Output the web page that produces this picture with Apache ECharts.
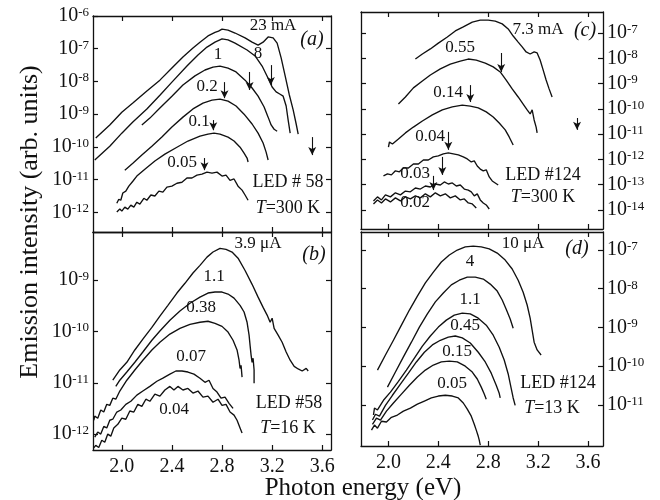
<!DOCTYPE html>
<html>
<head>
<meta charset="utf-8">
<script src="https://cdn.jsdelivr.net/npm/echarts@6.0.0/dist/echarts.min.js"></script>
<style>
  body { margin: 0; background: #fff; }
  #chart { width: 660px; height: 500px; }
</style>
</head>
<body>
<div id="chart"></div>
<script>
// photon energy (eV) vs log10 of emission intensity (arb. units)
const energyTicks = [2.0, 2.4, 2.8, 3.2, 3.6];
const decadesA = [-12, -11, -10, -9, -8, -7, -6];
const decadesB = [-12, -11, -10, -9];
const decadesC = [-14, -13, -12, -11, -10, -9, -8, -7];
const decadesD = [-11, -10, -9, -8, -7];

// (a) LED #58, T = 300 K
const a23mA = [[1.792,-9.73],[1.904,-9.33],[2.000,-8.94],[2.088,-8.66],[2.200,-8.29],[2.304,-7.96],[2.400,-7.59],[2.488,-7.25],[2.568,-6.98],[2.624,-6.80],[2.688,-6.61],[2.744,-6.50],[2.772,-6.46],[2.800,-6.40],[2.848,-6.43],[2.904,-6.52],[2.984,-6.67],[3.040,-6.80],[3.088,-6.89],[3.128,-6.80],[3.168,-6.64],[3.208,-6.67],[3.240,-6.83],[3.272,-7.28],[3.304,-7.83],[3.336,-8.39],[3.368,-8.87],[3.392,-9.30],[3.408,-9.61]];
const a8mA = [[1.784,-10.40],[1.904,-9.98],[2.000,-9.58],[2.088,-9.24],[2.200,-8.84],[2.304,-8.42],[2.400,-8.02],[2.520,-7.53],[2.608,-7.19],[2.680,-6.95],[2.744,-6.80],[2.800,-6.70],[2.848,-6.73],[2.904,-6.83],[3.000,-7.04],[3.064,-7.22],[3.120,-7.53],[3.168,-7.90],[3.200,-8.17],[3.232,-8.32],[3.264,-8.39],[3.288,-8.45],[3.312,-8.75],[3.328,-9.18],[3.344,-9.58]];
const a1mA = [[2.160,-9.33],[2.224,-9.12],[2.304,-8.81],[2.400,-8.45],[2.488,-8.11],[2.584,-7.83],[2.664,-7.65],[2.728,-7.56],[2.784,-7.53],[2.848,-7.59],[2.912,-7.71],[2.984,-7.96],[3.040,-8.20],[3.088,-8.45],[3.136,-8.78],[3.168,-9.09],[3.192,-9.33],[3.216,-9.46],[3.240,-9.52]];
const a02mA = [[2.024,-10.71],[2.088,-10.50],[2.160,-10.25],[2.240,-9.98],[2.320,-9.70],[2.400,-9.39],[2.488,-9.09],[2.568,-8.84],[2.648,-8.66],[2.720,-8.57],[2.784,-8.54],[2.848,-8.60],[2.912,-8.75],[2.976,-9.00],[3.040,-9.30],[3.088,-9.58],[3.128,-9.88],[3.152,-10.16],[3.168,-10.40]];
const a01mA = [[1.960,-11.72],[1.976,-11.60],[1.992,-11.63],[2.008,-11.41],[2.032,-11.35],[2.056,-11.20],[2.088,-11.05],[2.120,-10.89],[2.184,-10.68],[2.264,-10.43],[2.344,-10.22],[2.440,-10.01],[2.528,-9.82],[2.624,-9.67],[2.688,-9.61],[2.736,-9.58],[2.784,-9.61],[2.848,-9.70],[2.896,-9.82],[2.944,-10.01],[2.976,-10.19],[3.000,-10.34],[3.008,-10.46]];
const a005mA = [[1.960,-11.99],[1.984,-11.90],[2.000,-11.96],[2.024,-11.84],[2.048,-11.90],[2.072,-11.78],[2.096,-11.84],[2.120,-11.69],[2.144,-11.75],[2.176,-11.57],[2.200,-11.63],[2.232,-11.47],[2.264,-11.50],[2.296,-11.35],[2.328,-11.38],[2.360,-11.23],[2.400,-11.20],[2.440,-11.11],[2.480,-11.08],[2.520,-10.95],[2.560,-10.95],[2.600,-10.86],[2.640,-10.83],[2.680,-10.77],[2.720,-10.80],[2.760,-10.77],[2.800,-10.89],[2.832,-10.86],[2.864,-11.02],[2.896,-10.98],[2.928,-11.20],[2.960,-11.32],[2.984,-11.47],[3.008,-11.63]];
// arrows: energy, top, bottom
const arrowsA = [[2.66,-10.34,-10.71],[2.73,-9.18,-9.49],[2.82,-8.02,-8.51],[3.02,-7.71,-8.26],[3.19,-7.50,-8.11],[3.52,-9.70,-10.25]];

// (b) LED #58, T = 16 K
const b39uA = [[1.928,-10.95],[1.984,-10.75],[2.040,-10.60],[2.104,-10.36],[2.168,-10.15],[2.240,-9.92],[2.304,-9.70],[2.368,-9.49],[2.440,-9.25],[2.504,-9.06],[2.568,-8.86],[2.624,-8.71],[2.680,-8.55],[2.728,-8.45],[2.784,-8.38],[2.832,-8.40],[2.880,-8.45],[2.928,-8.57],[2.984,-8.81],[3.040,-9.08],[3.088,-9.33],[3.128,-9.53],[3.160,-9.68],[3.184,-9.82],[3.200,-9.74],[3.216,-9.94],[3.248,-10.07],[3.280,-10.21],[3.312,-10.40],[3.344,-10.56],[3.376,-10.68],[3.408,-10.73],[3.440,-10.77],[3.472,-10.72],[3.488,-10.77]];
const b11uA = [[1.952,-11.07],[1.984,-10.95],[2.040,-10.79],[2.104,-10.60],[2.168,-10.40],[2.240,-10.17],[2.304,-9.99],[2.384,-9.78],[2.464,-9.60],[2.544,-9.45],[2.624,-9.33],[2.688,-9.25],[2.744,-9.23],[2.800,-9.23],[2.848,-9.27],[2.896,-9.35],[2.944,-9.49],[2.976,-9.62],[3.000,-9.82],[3.016,-10.07],[3.024,-10.27],[3.032,-10.46],[3.040,-10.60],[3.048,-10.52],[3.056,-10.75],[3.056,-11.01]];
const b038uA = [[1.776,-11.73],[1.784,-11.65],[1.808,-11.69],[1.832,-11.53],[1.856,-11.57],[1.880,-11.42],[1.904,-11.44],[1.928,-11.30],[1.952,-11.32],[1.984,-11.16],[2.040,-10.95],[2.104,-10.75],[2.168,-10.56],[2.240,-10.36],[2.304,-10.21],[2.384,-10.05],[2.464,-9.94],[2.544,-9.86],[2.624,-9.82],[2.688,-9.80],[2.744,-9.84],[2.800,-9.90],[2.848,-10.01],[2.888,-10.17],[2.920,-10.36],[2.936,-10.56],[2.944,-10.72],[2.952,-10.66],[2.960,-10.89]];
const b007uA = [[1.784,-12.06],[1.808,-11.96],[1.832,-12.00],[1.856,-11.85],[1.880,-11.88],[1.904,-11.73],[1.928,-11.71],[1.960,-11.57],[1.992,-11.53],[2.032,-11.42],[2.072,-11.36],[2.120,-11.24],[2.168,-11.16],[2.224,-11.07],[2.280,-10.97],[2.328,-10.91],[2.384,-10.83],[2.432,-10.77],[2.480,-10.77],[2.528,-10.79],[2.576,-10.83],[2.624,-10.91],[2.664,-10.99],[2.696,-10.95],[2.728,-11.11],[2.760,-11.18],[2.792,-11.30],[2.824,-11.28],[2.856,-11.40],[2.888,-11.50]];
const b004uA = [[1.776,-12.27],[1.792,-12.22],[1.816,-12.26],[1.840,-12.12],[1.864,-12.16],[1.888,-12.00],[1.912,-12.04],[1.936,-11.88],[1.968,-11.81],[2.000,-11.69],[2.032,-11.71],[2.064,-11.55],[2.096,-11.57],[2.128,-11.42],[2.160,-11.46],[2.192,-11.32],[2.224,-11.36],[2.264,-11.22],[2.304,-11.26],[2.344,-11.14],[2.384,-11.07],[2.416,-11.14],[2.448,-11.07],[2.488,-11.14],[2.528,-11.11],[2.568,-11.20],[2.608,-11.16],[2.648,-11.28],[2.688,-11.26],[2.728,-11.38],[2.768,-11.32],[2.800,-11.44],[2.832,-11.42],[2.864,-11.57],[2.896,-11.63],[2.920,-11.73],[2.944,-11.88],[2.960,-11.98]];

// (c) LED #124, T = 300 K
const c73mA = [[2.216,-8.03],[2.272,-7.83],[2.336,-7.63],[2.400,-7.40],[2.472,-7.16],[2.536,-6.92],[2.600,-6.76],[2.672,-6.57],[2.736,-6.49],[2.800,-6.49],[2.856,-6.53],[2.912,-6.64],[2.960,-6.84],[3.000,-7.12],[3.040,-7.36],[3.072,-7.55],[3.104,-7.75],[3.136,-7.83],[3.168,-7.75],[3.192,-7.79],[3.216,-8.07],[3.240,-8.46],[3.264,-8.86],[3.288,-9.21],[3.312,-9.53]];
const c055mA = [[2.080,-9.81],[2.136,-9.53],[2.200,-9.17],[2.272,-8.90],[2.336,-8.66],[2.416,-8.42],[2.496,-8.23],[2.576,-8.11],[2.640,-8.03],[2.704,-8.07],[2.776,-8.19],[2.840,-8.34],[2.896,-8.54],[2.944,-8.86],[2.992,-9.21],[3.040,-9.53],[3.080,-9.81],[3.112,-10.04],[3.136,-10.20],[3.152,-10.04],[3.168,-10.44],[3.184,-10.72],[3.192,-10.95]];
const c014mA = [[2.000,-11.51],[2.008,-11.31],[2.032,-11.39],[2.080,-11.19],[2.136,-10.95],[2.200,-10.72],[2.272,-10.48],[2.352,-10.24],[2.432,-10.04],[2.512,-9.92],[2.592,-9.85],[2.656,-9.89],[2.720,-9.96],[2.784,-10.12],[2.840,-10.32],[2.888,-10.56],[2.936,-10.83],[2.968,-11.11],[3.000,-11.43]];
const c004mA = [[1.960,-12.65],[1.992,-12.57],[2.024,-12.61],[2.056,-12.45],[2.088,-12.49],[2.120,-12.34],[2.160,-12.34],[2.200,-12.18],[2.240,-12.18],[2.280,-12.02],[2.320,-12.02],[2.360,-11.90],[2.400,-11.86],[2.440,-11.78],[2.480,-11.74],[2.520,-11.78],[2.560,-11.82],[2.600,-11.90],[2.632,-11.98],[2.664,-12.10],[2.688,-12.06],[2.712,-12.26],[2.736,-12.38],[2.760,-12.45],[2.784,-12.41],[2.808,-12.69],[2.832,-12.85],[2.856,-12.93],[2.880,-13.01]];
const c003mA = [[1.880,-13.64],[1.912,-13.48],[1.944,-13.60],[1.976,-13.40],[2.016,-13.48],[2.056,-13.32],[2.096,-13.40],[2.136,-13.25],[2.176,-13.28],[2.216,-13.13],[2.256,-13.17],[2.296,-13.05],[2.336,-13.09],[2.376,-12.97],[2.416,-13.01],[2.448,-12.89],[2.480,-12.97],[2.512,-12.93],[2.544,-13.05],[2.576,-13.01],[2.608,-13.17],[2.640,-13.21],[2.664,-13.28],[2.688,-13.44],[2.712,-13.36],[2.736,-13.60],[2.760,-13.72],[2.784,-13.80],[2.808,-13.96]];
const c002mA = [[1.880,-13.76],[1.912,-13.60],[1.944,-13.72],[1.976,-13.56],[2.016,-13.68],[2.056,-13.52],[2.096,-13.64],[2.136,-13.48],[2.176,-13.56],[2.216,-13.44],[2.256,-13.52],[2.296,-13.36],[2.336,-13.48],[2.376,-13.32],[2.416,-13.44],[2.456,-13.36],[2.496,-13.52],[2.536,-13.44],[2.576,-13.60],[2.608,-13.56],[2.640,-13.72],[2.672,-13.76],[2.704,-13.92]];
const arrowsC = [[2.904,-7.79,-8.54],[2.656,-9.06,-9.73],[2.480,-10.91,-11.62],[2.432,-11.90,-12.61],[2.360,-12.65,-13.21],[3.512,-10.36,-10.83]];

// (d) LED #124, T = 13 K
const d10uA = [[1.912,-10.10],[1.976,-9.71],[2.040,-9.33],[2.104,-8.94],[2.168,-8.55],[2.232,-8.19],[2.296,-7.85],[2.360,-7.57],[2.424,-7.31],[2.488,-7.13],[2.552,-7.00],[2.616,-6.92],[2.680,-6.90],[2.744,-6.92],[2.808,-6.97],[2.872,-7.08],[2.936,-7.26],[2.992,-7.49],[3.040,-7.78],[3.080,-8.09],[3.112,-8.42],[3.136,-8.76],[3.152,-9.07],[3.168,-9.38],[3.192,-9.58],[3.224,-9.71]];
const d4uA = [[1.992,-10.54],[2.056,-10.15],[2.120,-9.76],[2.184,-9.38],[2.248,-8.99],[2.312,-8.65],[2.376,-8.34],[2.440,-8.11],[2.504,-7.90],[2.568,-7.78],[2.632,-7.70],[2.696,-7.70],[2.760,-7.75],[2.816,-7.88],[2.872,-8.06],[2.912,-8.29],[2.944,-8.53],[2.976,-8.78],[3.000,-9.02]];
const d11uA = [[1.880,-11.26],[1.888,-11.08],[1.912,-11.13],[1.960,-10.88],[2.016,-10.67],[2.080,-10.39],[2.144,-10.10],[2.208,-9.79],[2.272,-9.48],[2.336,-9.22],[2.400,-8.99],[2.464,-8.81],[2.528,-8.68],[2.592,-8.63],[2.656,-8.65],[2.720,-8.76],[2.784,-8.94],[2.840,-9.20],[2.888,-9.51],[2.928,-9.84],[2.960,-10.20],[2.984,-10.57],[3.000,-10.82],[3.016,-11.01]];
const d045uA = [[1.872,-11.39],[1.896,-11.24],[1.928,-11.29],[1.976,-11.01],[2.032,-10.75],[2.096,-10.46],[2.160,-10.18],[2.224,-9.89],[2.288,-9.64],[2.352,-9.45],[2.416,-9.33],[2.480,-9.25],[2.536,-9.22],[2.592,-9.27],[2.656,-9.40],[2.720,-9.64],[2.776,-9.89],[2.824,-10.18],[2.864,-10.49],[2.888,-10.70],[2.896,-10.82]];
const d015uA = [[1.872,-11.50],[1.904,-11.34],[1.936,-11.39],[1.984,-11.16],[2.040,-10.95],[2.104,-10.72],[2.168,-10.49],[2.232,-10.28],[2.296,-10.10],[2.360,-9.97],[2.424,-9.89],[2.488,-9.87],[2.552,-9.89],[2.616,-10.00],[2.672,-10.15],[2.712,-10.33],[2.744,-10.54],[2.768,-10.72],[2.784,-10.85]];
const d005uA = [[1.864,-11.65],[1.888,-11.52],[1.912,-11.60],[1.944,-11.42],[1.984,-11.44],[2.024,-11.32],[2.072,-11.26],[2.120,-11.16],[2.176,-11.08],[2.232,-10.98],[2.288,-10.90],[2.344,-10.82],[2.400,-10.77],[2.456,-10.75],[2.512,-10.77],[2.560,-10.82],[2.600,-10.95],[2.632,-11.11],[2.664,-11.29],[2.688,-11.50],[2.704,-11.65],[2.720,-11.81],[2.728,-11.91],[2.736,-12.04]];

const serif = 'Liberation Serif';
const ink = '#111';

const panels = [
  { left: 93, top: 16, width: 238, height: 216, x: [1.77, 3.67], y: [-12.6, -6.0], dec: decadesA, side: 'left', xLab: false,
    curves: [a23mA, a8mA, a1mA, a02mA, a01mA, a005mA], arrows: arrowsA },
  { left: 93, top: 232, width: 238, height: 218, x: [1.77, 3.67], y: [-12.31, -8.06], dec: decadesB, side: 'left', xLab: true,
    curves: [b39uA, b11uA, b038uA, b007uA, b004uA], arrows: [] },
  { left: 361, top: 12, width: 242, height: 217, x: [1.78, 3.72], y: [-14.75, -6.17], dec: decadesC, side: 'right', xLab: false,
    curves: [c73mA, c055mA, c014mA, c004mA, c003mA, c002mA], arrows: arrowsC },
  { left: 361, top: 232, width: 242, height: 214, x: [1.78, 3.72], y: [-12.06, -6.535], dec: decadesD, side: 'right', xLab: true,
    curves: [d10uA, d4uA, d11uA, d045uA, d015uA, d005uA], arrows: [] }
];

const frame = { show: true, onZero: false, lineStyle: { color: ink, width: 1.3 } };
const rich = {
  b: { fontFamily: serif, fontSize: 20, color: ink, lineHeight: 20, verticalAlign: 'bottom' },
  s: { fontFamily: serif, fontSize: 13, color: ink, lineHeight: 13, verticalAlign: 'top', padding: [0, 0, 7, 0] }
};

const grid = [], xAxis = [], yAxis = [], series = [];
panels.forEach((p, i) => {
  grid.push({ left: p.left, top: p.top, width: p.width, height: p.height });
  ['bottom', 'top'].forEach(pos => {
    xAxis.push({
      gridIndex: i, type: 'value', min: p.x[0], max: p.x[1], position: pos,
      axisLine: frame,
      axisTick: { show: true, inside: true, length: 5, customValues: energyTicks, lineStyle: { color: ink, width: 1.2 } },
      axisLabel: { show: pos === 'bottom' && p.xLab, customValues: energyTicks, formatter: v => v.toFixed(1),
        color: ink, fontFamily: serif, fontSize: 20, margin: 7, interval: 0 },
      splitLine: { show: false }
    });
  });
  ['left', 'right'].forEach(pos => {
    yAxis.push({
      gridIndex: i, type: 'value', min: p.y[0], max: p.y[1], position: pos,
      axisLine: frame,
      axisTick: { show: true, inside: true, length: 5, customValues: p.dec, lineStyle: { color: ink, width: 1.2 } },
      axisLabel: { show: pos === p.side, customValues: p.dec, margin: 4, interval: 0, hideOverlap: false,
        showMinLabel: true, showMaxLabel: true,
        formatter: v => '{b|10}{s|' + Math.round(v) + '}', rich: rich },
      splitLine: { show: false }
    });
  });
  p.curves.forEach((c, k) => {
    const s = {
      type: 'line', data: c, xAxisIndex: 2 * i, yAxisIndex: 2 * i,
      symbol: 'none', lineStyle: { color: ink, width: 1.35 }, silent: true
    };
    if (k === 0 && p.arrows.length) {
      s.markLine = {
        silent: true, symbol: ['none', 'arrow'], symbolSize: [6, 8],
        lineStyle: { color: ink, width: 1.1, type: 'solid' }, label: { show: false },
        data: p.arrows.map(a => [{ coord: [a[0], a[1]] }, { coord: [a[0], a[2]] }])
      };
    }
    series.push(s);
  });
});

function txt(x, y, s, size, italic) {
  return {
    type: 'text', x: x, y: y, silent: true,
    style: {
      text: s, fill: ink, fontFamily: serif, fontSize: size || 18,
      fontStyle: italic ? 'italic' : 'normal', align: 'center', verticalAlign: 'middle',
      rich: {
        i: { fontFamily: serif, fontSize: size || 18, fontStyle: 'italic', fill: ink }
      }
    }
  };
}

const labels = [
  // (a)
  txt(273, 26, '23 mA', 17), txt(312, 40, '(a)', 20, true), txt(258, 54, '8', 17), txt(218, 55, '1', 17),
  txt(207, 87, '0.2', 17), txt(199, 122, '0.1', 17), txt(182, 163, '0.05', 17),
  txt(288, 182, 'LED # 58', 18), txt(288, 208, '{i|T}=300 K', 18),
  // (b)
  txt(258, 244, '3.9 μA', 17), txt(314, 255, '(b)', 20, true), txt(214, 277, '1.1', 17),
  txt(201, 308, '0.38', 17), txt(191, 357, '0.07', 17), txt(174, 410, '0.04', 17),
  txt(289, 403, 'LED #58', 18), txt(288, 428, '{i|T}=16 K', 18),
  // (c)
  txt(538, 30, '7.3 mA', 17), txt(585, 31, '(c)', 20, true), txt(460, 48, '0.55', 17),
  txt(448, 93, '0.14', 17), txt(430, 137, '0.04', 17), txt(415, 174, '0.03', 17), txt(415, 203, '0.02', 17),
  txt(543, 175, 'LED #124', 18), txt(543, 197, '{i|T}=300 K', 18),
  // (d)
  txt(523, 244, '10 μA', 17), txt(577, 249, '(d)', 20, true), txt(470, 262, '4', 17),
  txt(470, 300, '1.1', 17), txt(465, 326, '0.45', 17), txt(457, 352, '0.15', 17), txt(452, 384, '0.05', 17),
  txt(558, 383, 'LED #124', 18), txt(552, 408, '{i|T}=13 K', 18),
  // axis titles
  txt(363, 488, 'Photon energy (eV)', 25),
  Object.assign(txt(30, 222, 'Emission intensity (arb. units)', 26), { rotation: Math.PI / 2 })
];

const myChart = echarts.init(document.getElementById('chart'));
myChart.setOption({
  animation: false,
  backgroundColor: '#fff',
  grid: grid,
  xAxis: xAxis,
  yAxis: yAxis,
  series: series,
  graphic: labels
});
</script>
</body>
</html>
